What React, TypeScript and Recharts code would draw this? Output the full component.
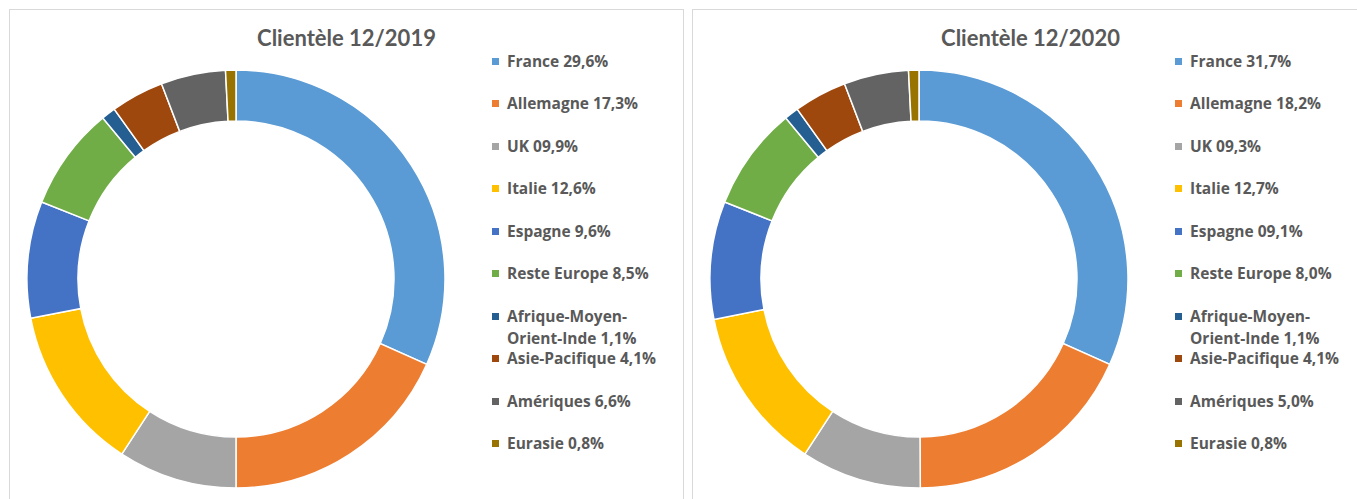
import React from "react"
import { PieChart, Pie, Cell, Legend } from "recharts"

const categories = [
  "France",
  "Allemagne",
  "UK",
  "Italie",
  "Espagne",
  "Reste Europe",
  "Afrique-Moyen-Orient-Inde",
  "Asie-Pacifique",
  "Amériques",
  "Eurasie",
]

// printed in the legend
const labels2019 = ["29,6%", "17,3%", "09,9%", "12,6%", "9,6%", "8,5%", "1,1%", "4,1%", "6,6%", "0,8%"]
const labels2020 = ["31,7%", "18,2%", "09,3%", "12,7%", "09,1%", "8,0%", "1,1%", "4,1%", "5,0%", "0,8%"]

// slice sizes as drawn in the rings
const shares2019 = [31.7, 18.3, 9.2, 12.8, 9.0, 8.0, 1.1, 4.1, 5.0, 0.8]
const shares2020 = [31.7, 18.2, 9.3, 12.7, 9.1, 8.0, 1.1, 4.1, 5.0, 0.8]

const COLORS = ["#5B9BD5", "#ED7D31", "#A5A5A5", "#FFC000", "#4472C4", "#70AD47", "#255E91", "#9E480E", "#636363", "#997300"]

const TITLE_FONT = "Lato, 'Open Sans', sans-serif"
const LEGEND_FONT = "'Open Sans', Lato, sans-serif"
const TEXT = "#595959"

function LegendList({ labels }: { labels: string[] }) {
  return (
    <div style={{ position: "relative", fontFamily: LEGEND_FONT, fontWeight: 700, fontSize: 15.5, color: TEXT }}>
      {categories.map((name, i) => (
        <div
          key={name}
          style={{ position: "absolute", left: 0, top: i * 42.5, lineHeight: "22px", whiteSpace: "pre", display: "flex" }}
        >
          <span style={{ display: "inline-block", width: 7, height: 7, background: COLORS[i], marginTop: 8, marginRight: 8 }} />
          <span>{name.replace("Moyen-", "Moyen-\n") + " " + labels[i]}</span>
        </div>
      ))}
    </div>
  )
}

function Donut({ title, shares, labels, left, width }: { title: string; shares: number[]; labels: string[]; left: number; width: number }) {
  const data = categories.map((name, i) => ({ name, value: shares[i] }))
  return (
    <div
      style={{
        position: "absolute",
        left,
        top: 9,
        width,
        height: 520,
        border: "1px solid #d9d9d9",
        background: "#fff",
      }}
    >
      <div
        style={{
          position: "absolute",
          left: 0,
          top: 14,
          width: "100%",
          textAlign: "center",
          fontFamily: TITLE_FONT,
          fontWeight: 700,
          fontSize: 22,
          color: TEXT,
        }}
      >
        {title}
      </div>
      <PieChart width={width} height={500} margin={{ top: 0, right: 0, bottom: 0, left: 0 }}>
        <Pie
          data={data}
          dataKey="value"
          nameKey="name"
          cx={226}
          cy={269}
          innerRadius={158}
          outerRadius={209}
          startAngle={90}
          endAngle={-270}
          stroke="#fff"
          strokeWidth={1.5}
          isAnimationActive={false}
        >
          {data.map((_, idx) => (
            <Cell key={idx} fill={COLORS[idx]} />
          ))}
        </Pie>
        <Legend
          layout="vertical"
          align="right"
          verticalAlign="top"
          wrapperStyle={{ left: 482, top: 39.5, width: 200 }}
          content={() => <LegendList labels={labels} />}
        />
      </PieChart>
    </div>
  )
}

export default function App() {
  return (
    <div style={{ position: "absolute", left: 0, top: 0, width: 1357, height: 499, overflow: "hidden", background: "#fff" }}>
      <Donut title="Clientèle 12/2019" shares={shares2019} labels={labels2019} left={9} width={673} />
      <Donut title="Clientèle 12/2020" shares={shares2020} labels={labels2020} left={692} width={675} />
    </div>
  )
}
